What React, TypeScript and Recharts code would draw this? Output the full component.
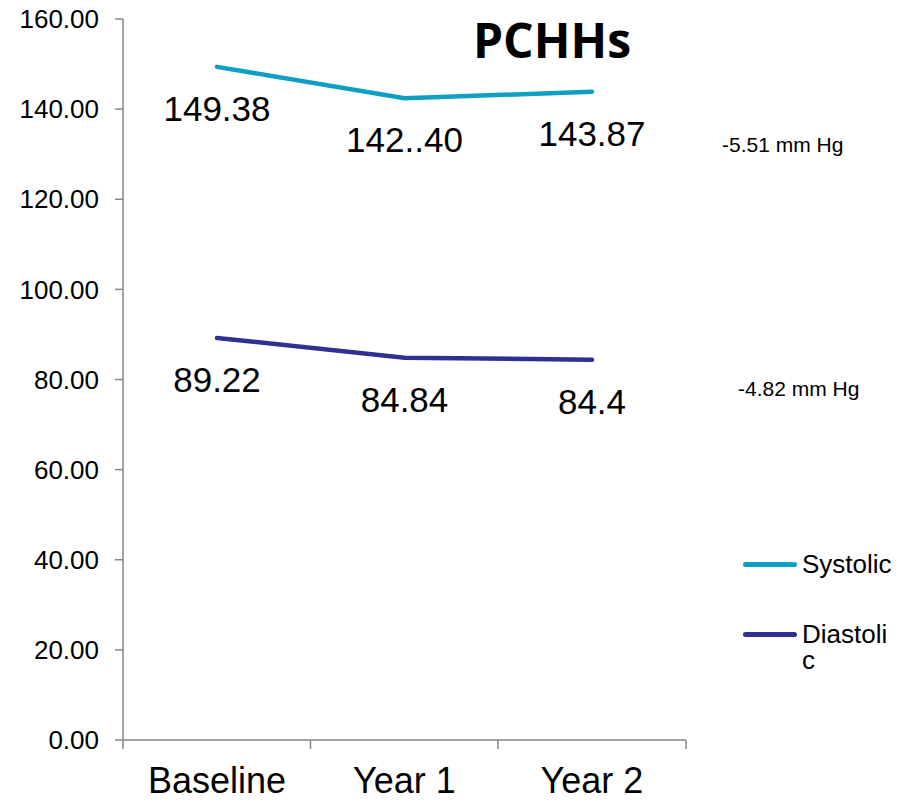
import React from 'react';
import { LineChart, Line, XAxis, YAxis, Legend, LabelList } from 'recharts';

const categories = ['Baseline', 'Year 1', 'Year 2'];
const systolic = [149.38, 142.4, 143.87];
const diastolic = [89.22, 84.84, 84.4];
const systolicLabels = ['149.38', '142..40', '143.87'];
const diastolicLabels = ['89.22', '84.84', '84.4'];
const yTicks = [0, 20, 40, 60, 80, 100, 120, 140, 160];
const seriesOrder = ['Systolic', 'Diastolic'];

const FONT = '"Liberation Sans", Arial, sans-serif';
const AXIS_GREY = '#868686';
const SYSTOLIC_COLOR = '#0E9FC3';
const DIASTOLIC_COLOR = '#2E3192';
// half of one category band; points sit in the band centres
const HALF_BAND = 94;

const data = categories.map((name, i) => ({
  name,
  systolic: systolic[i],
  diastolic: diastolic[i],
  systolicLabel: systolicLabels[i],
  diastolicLabel: diastolicLabels[i],
}));

// value text sits below each point
const PointLabel = (props: any) => {
  const { x, y, value } = props;
  return (
    <text x={x} y={y + 54} textAnchor="middle" fontFamily={FONT} fontSize={35} fill="#000">
      {value}
    </text>
  );
};

// category label centred in its band, tick marks on the band edges
const CategoryTick = (props: any) => {
  const { x, y, payload, index, visibleTicksCount } = props;
  const last = index === visibleTicksCount - 1;
  return (
    <g>
      <line x1={x - HALF_BAND} x2={x - HALF_BAND} y1={y} y2={y + 9} stroke={AXIS_GREY} strokeWidth={1.5} />
      {last && (
        <line x1={x + HALF_BAND} x2={x + HALF_BAND} y1={y} y2={y + 9} stroke={AXIS_GREY} strokeWidth={1.5} />
      )}
      <text x={x} y={y + 53} textAnchor="middle" fontFamily={FONT} fontSize={36} fill="#000">
        {payload.value}
      </text>
    </g>
  );
};

const LegendContent = (props: any) => {
  const items = [...(props.payload || [])].sort(
    (a: any, b: any) => seriesOrder.indexOf(a.value) - seriesOrder.indexOf(b.value)
  );
  return (
    <div style={{ fontFamily: FONT, fontSize: 26, lineHeight: '26px', color: '#000' }}>
      {items.map((entry: any) => (
        <div key={entry.value} style={{ display: 'flex', alignItems: 'flex-start', marginBottom: 44 }}>
          <div
            style={{
              width: 54,
              height: 5,
              borderRadius: 3,
              background: entry.color,
              marginTop: 11,
              marginRight: 5,
            }}
          />
          <div style={{ width: 94, wordBreak: 'break-all' }}>{entry.value}</div>
        </div>
      ))}
    </div>
  );
};

export default function App() {
  return (
    <div style={{ position: 'absolute', left: 0, top: 0, width: 900, height: 801, background: '#fff' }}>
      <LineChart
        width={900}
        height={801}
        data={data}
        margin={{ top: 19, right: 214, left: 0, bottom: 0 }}
      >
        <XAxis
          dataKey="name"
          height={61}
          interval={0}
          padding={{ left: HALF_BAND, right: HALF_BAND }}
          tickLine={false}
          tickSize={0}
          tickMargin={0}
          axisLine={{ stroke: AXIS_GREY, strokeWidth: 1.5 }}
          tick={<CategoryTick />}
        />
        <YAxis
          width={123}
          domain={[0, 160]}
          ticks={yTicks}
          interval={0}
          tickFormatter={(v: number) => v.toFixed(2)}
          tickSize={8}
          tickMargin={16}
          axisLine={{ stroke: AXIS_GREY, strokeWidth: 1.5 }}
          tickLine={{ stroke: AXIS_GREY, strokeWidth: 1.5 }}
          tick={{ fill: '#000', fontSize: 26, fontFamily: FONT }}
        />
        <Legend
          layout="vertical"
          align="center"
          verticalAlign="middle"
          content={<LegendContent />}
          wrapperStyle={{ left: 743, top: 551, width: 157, height: 'auto' }}
        />
        <Line
          type="linear"
          dataKey="systolic"
          name="Systolic"
          stroke={SYSTOLIC_COLOR}
          strokeWidth={4.5}
          strokeLinecap="round"
          dot={false}
          activeDot={false}
          isAnimationActive={false}
        >
          <LabelList dataKey="systolicLabel" content={<PointLabel />} />
        </Line>
        <Line
          type="linear"
          dataKey="diastolic"
          name="Diastolic"
          stroke={DIASTOLIC_COLOR}
          strokeWidth={4.5}
          strokeLinecap="round"
          dot={false}
          activeDot={false}
          isAnimationActive={false}
        >
          <LabelList dataKey="diastolicLabel" content={<PointLabel />} />
        </Line>
      </LineChart>
      <svg
        width={900}
        height={801}
        style={{ position: 'absolute', left: 0, top: 0, pointerEvents: 'none' }}
      >
        <text
          x={552}
          y={58}
          textAnchor="middle"
          fontFamily='"Open Sans", sans-serif'
          fontWeight={700}
          fontSize={48}
          fill="#000"
        >
          PCHHs
        </text>
        <text x={722} y={152} fontFamily={FONT} fontSize={21} fill="#000">
          -5.51 mm Hg
        </text>
        <text x={738} y={396} fontFamily={FONT} fontSize={21} fill="#000">
          -4.82 mm Hg
        </text>
      </svg>
    </div>
  );
}
